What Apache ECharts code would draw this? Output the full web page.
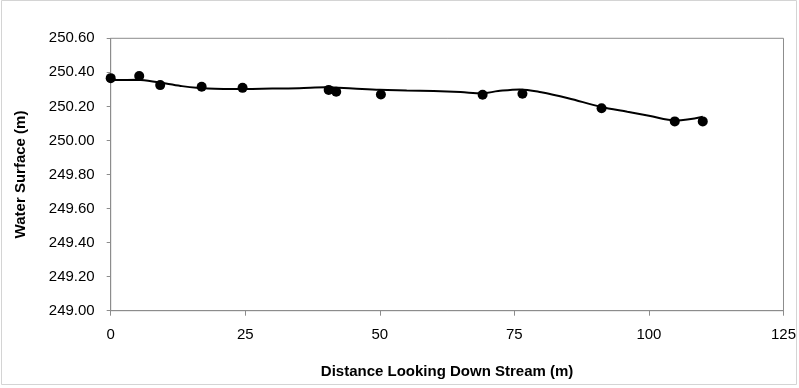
<!DOCTYPE html>
<html>
<head>
<meta charset="utf-8">
<script src="https://cdn.jsdelivr.net/npm/echarts@6/dist/echarts.min.js"></script>
<style>
html,body{margin:0;padding:0;background:#fff;}
#c{width:799px;height:388px;}
</style>
</head>
<body>
<div id="c"></div>
<script>
// Measured points
var pointX = [0, 5.3, 9.2, 16.9, 24.5, 40.5, 41.9, 50.2, 69.1, 76.5, 91.2, 104.8, 110.0];
var pointY = [250.366, 250.379, 250.325, 250.315, 250.309, 250.297, 250.286, 250.270, 250.268, 250.274, 250.189, 250.112, 250.112];
// Smoothed curve
var curveX = [0, 5, 9, 13, 18, 25, 30, 35, 40, 45, 50, 55, 60, 65, 69, 72, 76, 80, 85, 91, 96, 100, 105, 110];
var curveY = [250.355, 250.356, 250.34, 250.32, 250.305, 250.302, 250.305, 250.307, 250.312, 250.305, 250.298, 250.294, 250.29, 250.284, 250.277, 250.29, 250.30, 250.283, 250.248, 250.198, 250.168, 250.145, 250.117, 250.139];

var xTicks = [0, 25, 50, 75, 100, 125];
var yTicks = ['249.00','249.20','249.40','249.60','249.80','250.00','250.20','250.40','250.60'];

function zip(a, b) { return a.map(function (v, i) { return [v, b[i]]; }); }

var axisGray = '#8c8c8c';
var chart = echarts.init(document.getElementById('c'), null, {renderer: 'canvas'});
chart.setOption({
  animation: false,
  backgroundColor: '#fff',
  textStyle: {fontFamily: 'Liberation Sans, Arial, sans-serif'},
  graphic: [{
    type: 'rect', silent: true, z: -1,
    shape: {x: 1.5, y: 0.5, width: 795, height: 384},
    style: {fill: null, stroke: '#d4d4d4', lineWidth: 1}
  }],
  grid: {left: 110.7, right: 15.3, top: 38.3, bottom: 77.3, show: true, borderColor: axisGray, borderWidth: 1, backgroundColor: 'transparent'},
  xAxis: {
    type: 'value', min: xTicks[0], max: xTicks[xTicks.length - 1], interval: 25,
    name: 'Distance Looking Down Stream (m)', nameLocation: 'middle', nameGap: 54,
    nameTextStyle: {fontSize: 15, fontWeight: 'bold', color: '#000', fontFamily: 'Liberation Sans, Arial, sans-serif'},
    axisLine: {lineStyle: {color: axisGray}},
    axisTick: {show: true, length: 5, lineStyle: {color: axisGray}},
    axisLabel: {fontSize: 15, color: '#000', margin: 17},
    splitLine: {show: false}
  },
  yAxis: {
    type: 'value', min: 249.0, max: 250.6, interval: 0.2,
    name: 'Water Surface (m)', nameLocation: 'middle', nameGap: 82,
    nameTextStyle: {fontSize: 15, fontWeight: 'bold', color: '#000', fontFamily: 'Liberation Sans, Arial, sans-serif'},
    axisLine: {show: true, lineStyle: {color: axisGray}},
    axisTick: {show: true, length: 4, lineStyle: {color: axisGray}},
    axisLabel: {fontSize: 15, color: '#000', margin: 16, formatter: function (v) { return v.toFixed(2); }},
    splitLine: {show: false}
  },
  series: [{
    type: 'line', data: zip(curveX, curveY), smooth: 0.35, showSymbol: false, symbol: 'none',
    lineStyle: {color: '#000', width: 2}, z: 2
  }, {
    type: 'scatter', data: zip(pointX, pointY), symbol: 'circle', symbolSize: 10,
    itemStyle: {color: '#000', opacity: 1}, z: 3
  }]
});
</script>
</body>
</html>
